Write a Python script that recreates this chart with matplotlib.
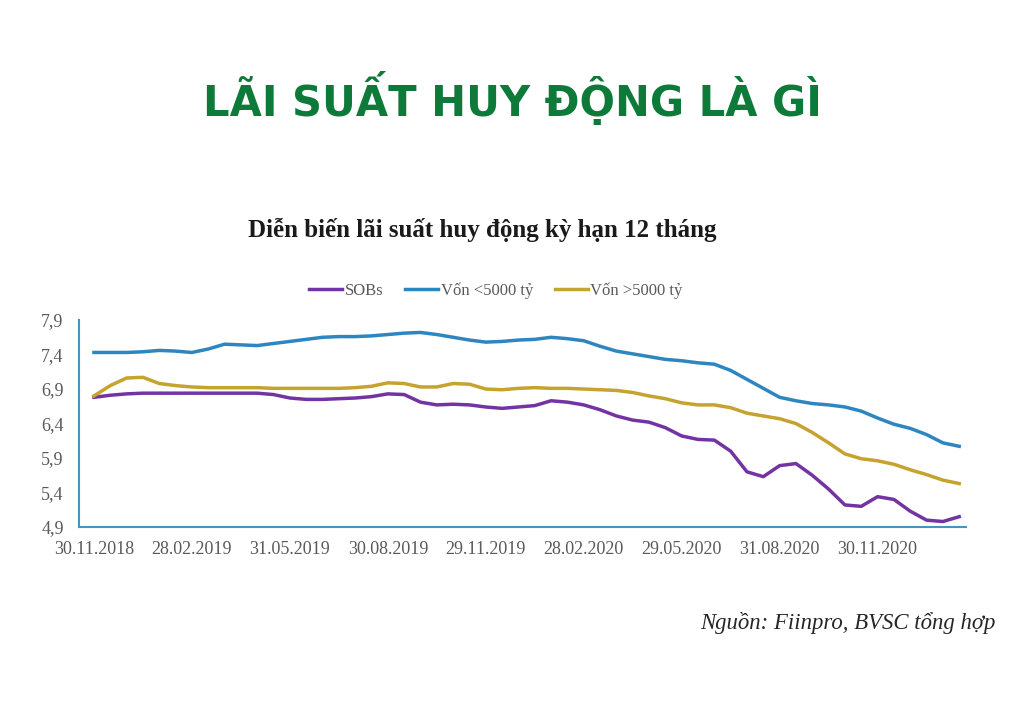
import numpy as np
import matplotlib
matplotlib.use("Agg")
import matplotlib.pyplot as plt

# half-month steps starting 30.11.2018
months = np.arange(54) * 0.5

sobs = [6.78, 6.81, 6.83, 6.84, 6.84, 6.84, 6.84, 6.84, 6.84, 6.84,
        6.84, 6.82, 6.77, 6.75, 6.75, 6.76, 6.77, 6.79, 6.83, 6.82,
        6.71, 6.67, 6.68, 6.67, 6.64, 6.62, 6.64, 6.66, 6.73, 6.71,
        6.67, 6.60, 6.51, 6.45, 6.42, 6.34, 6.22, 6.17, 6.16, 6.00,
        5.70, 5.63, 5.79, 5.82, 5.65, 5.45, 5.22, 5.20, 5.34, 5.30,
        5.13, 5.00, 4.98, 5.05]
von_nho = [7.43, 7.43, 7.43, 7.44, 7.46, 7.45, 7.43, 7.48, 7.55, 7.54,
           7.53, 7.56, 7.59, 7.62, 7.65, 7.66, 7.66, 7.67, 7.69, 7.71,
           7.72, 7.69, 7.65, 7.61, 7.58, 7.59, 7.61, 7.62, 7.65, 7.63,
           7.60, 7.52, 7.45, 7.41, 7.37, 7.33, 7.31, 7.28, 7.26, 7.17,
           7.04, 6.91, 6.78, 6.73, 6.69, 6.67, 6.64, 6.58, 6.48, 6.39,
           6.33, 6.24, 6.12, 6.07]
von_lon = [6.80, 6.95, 7.06, 7.07, 6.98, 6.95, 6.93, 6.92, 6.92, 6.92,
           6.92, 6.91, 6.91, 6.91, 6.91, 6.91, 6.92, 6.94, 6.99, 6.98,
           6.93, 6.93, 6.98, 6.97, 6.90, 6.89, 6.91, 6.92, 6.91, 6.91,
           6.90, 6.89, 6.88, 6.85, 6.80, 6.76, 6.70, 6.67, 6.67, 6.63,
           6.55, 6.51, 6.47, 6.40, 6.27, 6.12, 5.96, 5.89, 5.86, 5.81,
           5.73, 5.66, 5.58, 5.53]

tick_pos = [0, 3, 6, 9, 12, 15, 18, 21, 24]
tick_labels = ["30.11.2018", "28.02.2019", "31.05.2019", "30.08.2019", "29.11.2019",
               "28.02.2020", "29.05.2020", "31.08.2020", "30.11.2020"]
y_ticks = [4.9, 5.4, 5.9, 6.4, 6.9, 7.4, 7.9]
y_labels = ["4,9", "5,4", "5,9", "6,4", "6,9", "7,4", "7,9"]

serif = "Liberation Serif"
grey = "#595959"

fig = plt.figure(figsize=(10.24, 7.2), dpi=100)
fig.text(0.5, 0.864, "LÃI SUẤT HUY ĐỘNG LÀ GÌ", ha="center", va="center",
         fontsize=30, fontweight="heavy", color="#0e7a3a", family="DejaVu Sans")
fig.text(0.471, 0.68, "Diễn biến lãi suất huy động kỳ hạn 12 tháng", ha="center", va="center",
         fontsize=18, fontweight="bold", color="#1a1a1a", family=serif)
fig.text(0.972, 0.135, "Nguồn: Fiinpro, BVSC tổng hợp", ha="right", va="center",
         fontsize=16.4, style="italic", color="#262626", family=serif)

ax = fig.add_axes([0.0771, 0.268, 0.866, 0.2875])
ax.plot(months, sobs, color="#7433a3", lw=2.5, label="SOBs")
ax.plot(months, von_nho, color="#2e86c1", lw=2.5, label="Vốn <5000 tỷ")
ax.plot(months, von_lon, color="#c6a22e", lw=2.5, label="Vốn >5000 tỷ")

ax.set_xlim(-0.46, 26.7)
ax.set_ylim(4.9, 7.9)
ax.set_xticks(tick_pos)
ax.set_xticklabels(tick_labels, family=serif, fontsize=13, color=grey)
ax.set_yticks(y_ticks)
ax.set_yticklabels(y_labels, family=serif, fontsize=13, color=grey)
ax.tick_params(axis="x", length=0, pad=10)
ax.tick_params(axis="y", length=0, pad=11)
for s in ["top", "right"]:
    ax.spines[s].set_visible(False)
for s in ["left", "bottom"]:
    ax.spines[s].set_color("#4a93bd")
    ax.spines[s].set_linewidth(1.5)

ax.legend(loc="lower center", bbox_to_anchor=(0.47, 1.03), ncol=3, frameon=False,
          prop={"family": serif, "size": 12}, labelcolor=grey, handlelength=2.0,
          columnspacing=1.3, handletextpad=0.15)

fig.savefig("out.png", dpi=100, facecolor="white")
